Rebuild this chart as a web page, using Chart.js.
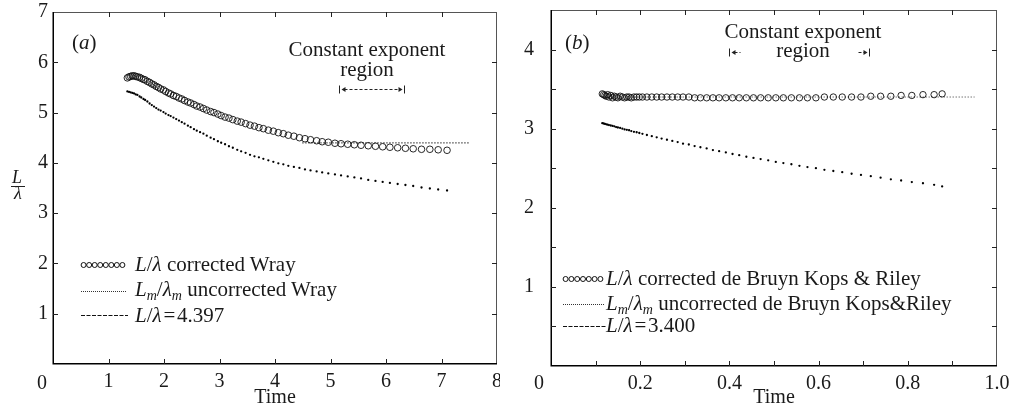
<!DOCTYPE html>
<html><head><meta charset="utf-8">
<script src="https://cdn.jsdelivr.net/npm/chart.js@4.4.1/dist/chart.umd.min.js"></script>
<style>
html,body{margin:0;padding:0;background:#fff;width:1015px;height:418px;overflow:hidden;}
#wrap{position:relative;width:1015px;height:418px;font-family:'Liberation Serif','Times New Roman',serif;color:#1a1a1a;}
canvas{position:absolute;top:0;}
#ca{left:0;width:520px;height:418px;}
#cb{left:500px;width:515px;height:418px;background:#fff;}
.t{position:absolute;font-size:21px;line-height:21px;white-space:nowrap;z-index:5;}
.z{font-size:20px;line-height:20px;}
.c{transform:translateX(-50%);}
.s{font-size:14px;position:relative;top:4px;}
.f{position:absolute;font-size:18px;line-height:18px;font-style:italic;z-index:5;transform:translateX(-50%);font-family:'Liberation Serif',serif;}
.bar{position:absolute;border-top:1px solid #222;z-index:5;}
</style></head><body>
<div id="wrap">
<canvas id="ca" width="520" height="418"></canvas>
<canvas id="cb" width="515" height="418"></canvas>

<div class="t" style="left:72px;top:32px;">(<i>a</i>)</div>
<div class="t c" style="left:367px;top:39px;">Constant exponent</div>
<div class="t c" style="left:367px;top:59px;">region</div>
<div class="t" style="left:135px;top:254px;"><i>L</i>/<i>λ</i> corrected Wray</div>
<div class="t" style="left:135px;top:279px;"><i>L<span class="s">m</span></i>/<i>λ<span class="s">m</span></i> uncorrected Wray</div>
<div class="t" style="left:135px;top:305px;"><i>L</i>/<i>λ</i>&#8202;=&#8202;4.397</div>
<div class="f" style="left:17px;top:168px;">L</div>
<div class="bar" style="left:11px;top:186px;width:14px;"></div>
<div class="f" style="left:18px;top:184px;">λ</div>
<div class="t c z" id="zeroA" style="left:42px;top:372px;"></div>

<div class="t" style="left:565px;top:32px;">(<i>b</i>)</div>
<div class="t c" style="left:803px;top:21px;">Constant exponent</div>
<div class="t c" style="left:803px;top:40px;">region</div>
<div class="t" style="left:606px;top:268px;"><i>L</i>/<i>λ</i> corrected de Bruyn Kops &amp; Riley</div>
<div class="t" style="left:606px;top:293px;"><i>L<span class="s">m</span></i>/<i>λ<span class="s">m</span></i> uncorrected de Bruyn Kops&amp;Riley</div>
<div class="t" style="left:606px;top:315px;"><i>L</i>/<i>λ</i>&#8202;=&#8202;3.400</div>
<div class="t c z" id="zeroB" style="left:539px;top:372px;"></div>
</div>

<script>
// ---------- Panel (a) data ----------
const timeA = [1.34,1.37,1.40,1.43,1.46,1.49,1.52,1.56,1.59,1.63,
  1.66,1.70,1.74,1.78,1.82,1.86,1.90,1.94,1.99,2.03,
  2.08,2.12,2.17,2.22,2.27,2.32,2.37,2.43,2.48,2.54,
  2.59,2.65,2.71,2.77,2.84,2.90,2.97,3.03,3.10,3.17,
  3.24,3.32,3.39,3.47,3.55,3.63,3.71,3.79,3.88,3.97,
  4.06,4.15,4.24,4.34,4.44,4.54,4.64,4.75,4.85,4.96,
  5.08,5.19,5.31,5.43,5.55,5.68,5.81,5.94,6.07,6.21,
  6.35,6.49,6.64,6.79,6.94,7.10];
const correctedA = [5.69,5.71,5.72,5.73,5.73,5.72,5.71,5.70,5.68,5.66,
  5.65,5.62,5.60,5.57,5.55,5.52,5.50,5.47,5.45,5.42,
  5.39,5.37,5.34,5.32,5.29,5.27,5.24,5.21,5.19,5.16,
  5.13,5.11,5.08,5.05,5.02,5.00,4.97,4.94,4.91,4.89,
  4.86,4.83,4.81,4.78,4.75,4.73,4.70,4.68,4.65,4.63,
  4.60,4.58,4.55,4.53,4.50,4.48,4.46,4.44,4.42,4.41,
  4.39,4.38,4.37,4.36,4.35,4.34,4.33,4.32,4.31,4.30,
  4.29,4.28,4.27,4.27,4.26,4.25];
const uncorrectedA = [5.42,5.41,5.40,5.39,5.38,5.36,5.35,5.32,5.30,5.27,
  5.25,5.22,5.18,5.15,5.12,5.09,5.06,5.04,5.01,4.98,
  4.95,4.93,4.90,4.87,4.84,4.81,4.78,4.74,4.71,4.67,
  4.64,4.61,4.58,4.54,4.50,4.47,4.43,4.40,4.37,4.33,
  4.30,4.26,4.23,4.20,4.16,4.13,4.11,4.08,4.05,4.02,
  3.99,3.97,3.94,3.92,3.90,3.87,3.85,3.83,3.81,3.79,
  3.77,3.75,3.73,3.71,3.69,3.66,3.64,3.62,3.60,3.58,
  3.56,3.54,3.51,3.49,3.47,3.45];
const constLineA = {x: [4.49, 7.49], y: 4.397};
const regionA = [5.15, 6.33];
const regionYA = 5.47;
const xTickValsA = [0,1,2,3,4,5,6,7,8];
const xTickLabelsA = ['0','1','2','3','4','5','6','7','8'];
const yTickValsA = [0,1,2,3,4,5,6,7];
const yTickLabelsA = ['','1','2','3','4','5','6','7'];

// ---------- Panel (b) data ----------
const timeB = [0.115,0.118,0.121,0.124,0.127,0.130,0.134,0.138,0.142,0.146,
  0.150,0.155,0.160,0.165,0.170,0.175,0.180,0.186,0.192,0.198,
  0.205,0.215,0.226,0.237,0.248,0.260,0.272,0.284,0.296,0.309,
  0.322,0.335,0.349,0.363,0.377,0.392,0.407,0.422,0.438,0.454,
  0.470,0.487,0.504,0.521,0.539,0.557,0.575,0.594,0.613,0.633,
  0.653,0.674,0.695,0.717,0.739,0.762,0.785,0.809,0.834,0.859,
  0.877];
const correctedB = [3.44,3.43,3.42,3.41,3.43,3.40,3.42,3.39,3.41,3.40,
  3.39,3.41,3.40,3.39,3.40,3.40,3.39,3.40,3.40,3.40,
  3.40,3.40,3.40,3.40,3.40,3.40,3.40,3.40,3.40,3.40,
  3.39,3.39,3.39,3.39,3.39,3.39,3.39,3.39,3.39,3.39,
  3.39,3.39,3.39,3.39,3.39,3.39,3.39,3.39,3.40,3.40,
  3.40,3.40,3.40,3.41,3.41,3.41,3.42,3.42,3.43,3.43,
  3.44];
const uncorrectedB = [3.07,3.065,3.06,3.055,3.05,3.045,3.04,3.035,3.03,3.02,
  3.015,3.01,3.00,2.99,2.985,2.98,2.97,2.96,2.955,2.945,
  2.935,2.92,2.905,2.89,2.875,2.86,2.845,2.83,2.81,2.80,
  2.78,2.765,2.75,2.73,2.715,2.70,2.68,2.665,2.645,2.63,
  2.615,2.60,2.58,2.565,2.55,2.53,2.515,2.50,2.48,2.465,
  2.45,2.43,2.415,2.40,2.38,2.36,2.345,2.325,2.31,2.29,
  2.27];
const constLineB = {x: [0.12, 0.95], y: 3.40};
const regionB = [0.40, 0.713];
const regionYB = 3.97;
const xTickValsB = [0,0.1,0.2,0.3,0.4,0.5,0.6,0.7,0.8,0.9,1.0];
const xTickLabelsB = ['0','','0.2','','0.4','','0.6','','0.8','','1.0'];
const yTickValsB = [0,0.5,1,1.5,2,2.5,3,3.5,4,4.5];
const yTickLabelsB = ['','','1','','2','','3','','4',''];

document.getElementById('zeroA').textContent = xTickLabelsA[0];
document.getElementById('zeroB').textContent = xTickLabelsB[0];

const FONT = "'Liberation Serif','Times New Roman',serif";
const INK = '#1a1a1a';

function arrowHead(ctx, x, y, dir) {
  ctx.beginPath();
  ctx.moveTo(x - dir * 4, y - 2.5);
  ctx.lineTo(x, y);
  ctx.lineTo(x - dir * 4, y + 2.5);
  ctx.closePath();
  ctx.fill();
}

function makeDecor(cfg) {
  return {
    id: 'decor',
    afterDatasetsDraw(chart) {
      const ctx = chart.ctx, a = chart.chartArea;
      const xs = chart.scales.x, ys = chart.scales.y;
      ctx.save();
      // frame
      ctx.strokeStyle = '#555'; ctx.lineWidth = 1;
      ctx.beginPath();
      ctx.moveTo(a.left, a.top + 0.5); ctx.lineTo(a.right, a.top + 0.5);
      ctx.moveTo(a.right - 0.5, a.top); ctx.lineTo(a.right - 0.5, a.bottom);
      ctx.stroke();
      ctx.strokeStyle = '#000'; ctx.lineWidth = 1.5;
      ctx.beginPath();
      ctx.moveTo(a.left + 0.25, a.top); ctx.lineTo(a.left + 0.25, a.bottom - 0.25); ctx.lineTo(a.right, a.bottom - 0.25);
      ctx.stroke();
      // inward ticks on all sides
      const tl = 5;
      ctx.strokeStyle = '#222'; ctx.lineWidth = 1;
      ctx.beginPath();
      cfg.xTickVals.forEach(v => {
        const p = Math.round(xs.getPixelForValue(v)) + 0.5;
        if (p <= a.left + 2 || p >= a.right - 2) return;
        ctx.moveTo(p, a.bottom); ctx.lineTo(p, a.bottom - tl);
        ctx.moveTo(p, a.top); ctx.lineTo(p, a.top + tl);
      });
      cfg.yTickVals.forEach(v => {
        const p = Math.round(ys.getPixelForValue(v)) + 0.5;
        if (p <= a.top + 2 || p >= a.bottom - 2) return;
        ctx.moveTo(a.left, p); ctx.lineTo(a.left + tl, p);
        ctx.moveTo(a.right, p); ctx.lineTo(a.right - tl, p);
      });
      ctx.stroke();
      // constant exponent region marker
      ctx.fillStyle = '#222'; ctx.strokeStyle = '#222'; ctx.lineWidth = 1;
      const xl = Math.round(xs.getPixelForValue(cfg.region[0])) + 0.5;
      const xr = Math.round(xs.getPixelForValue(cfg.region[1])) + 0.5;
      const yy = Math.round(ys.getPixelForValue(cfg.regionY)) + 0.5;
      ctx.beginPath();
      ctx.moveTo(xl, yy - 4); ctx.lineTo(xl, yy + 4);
      ctx.moveTo(xr, yy - 4); ctx.lineTo(xr, yy + 4);
      ctx.stroke();
      arrowHead(ctx, xl + 2, yy, -1);
      arrowHead(ctx, xr - 2, yy, 1);
      ctx.setLineDash([3, 2]);
      ctx.beginPath();
      if (cfg.fullArrow) {
        ctx.moveTo(xl + 5, yy); ctx.lineTo(xr - 5, yy);
      } else {
        ctx.moveTo(xl + 5, yy); ctx.lineTo(xl + 11, yy);
        ctx.moveTo(xr - 11, yy); ctx.lineTo(xr - 5, yy);
      }
      ctx.stroke();
      ctx.setLineDash([]);
      // legend samples
      const L = cfg.legend;
      ctx.strokeStyle = '#111'; ctx.lineWidth = 1;
      for (let i = 0; i < L.nCirc; i++) {
        const cx = L.x0 + 2.6 + i * (L.x1 - L.x0 - 5.2) / (L.nCirc - 1);
        ctx.beginPath(); ctx.arc(cx, L.y[0], 2.5, 0, Math.PI * 2); ctx.stroke();
      }
      ctx.fillStyle = '#333';
      for (let x = L.x0; x <= L.x1; x += 2) ctx.fillRect(x, L.y[1], 1, 1);
      ctx.strokeStyle = '#111'; ctx.lineWidth = 1.2;
      ctx.setLineDash([4, 1.5]);
      ctx.beginPath(); ctx.moveTo(L.x0, L.y[2] + 0.5); ctx.lineTo(L.x1 + 3, L.y[2] + 0.5); ctx.stroke();
      ctx.restore();
    }
  };
}

function makeChart(id, cfg) {
  const pts = (xs, ys) => xs.map((t, i) => ({x: t, y: ys[i]}));
  const label = (vals, labs) => v => { const i = vals.indexOf(v); return i >= 0 ? labs[i] : ''; };
  return new Chart(document.getElementById(id), {
    type: 'scatter',
    data: {
      datasets: [
        {label: 'corrected', data: pts(cfg.time, cfg.corr), pointStyle: 'circle', pointRadius: cfg.r,
         borderColor: '#111', borderWidth: 0.9, backgroundColor: 'rgba(0,0,0,0)', showLine: false},
        {label: 'uncorrected', data: pts(cfg.time, cfg.unc), pointStyle: 'circle', pointRadius: 1.15,
         borderWidth: 0, backgroundColor: '#000', showLine: false},
        {label: 'const', data: cfg.constLine.x.map(x => ({x: x, y: cfg.constLine.y})), showLine: true,
         pointRadius: 0, borderColor: cfg.constColor, borderWidth: 1, borderDash: [1.5, 1.5]}
      ]
    },
    options: {
      responsive: false, animation: false, devicePixelRatio: 1, events: [],
      layout: {padding: cfg.pad},
      plugins: {legend: {display: false}, tooltip: {enabled: false}},
      scales: {
        x: {
          type: 'linear', min: cfg.xmin, max: cfg.xmax,
          grid: {display: false, drawTicks: true, tickLength: 8}, border: {display: false},
          afterBuildTicks: s => { s.ticks = cfg.xTickVals.slice(1).filter((v, i) => cfg.xTickLabels[i + 1] !== '').map(v => ({value: v})); },
          ticks: {autoSkip: false, maxRotation: 0, padding: 0, color: INK,
                  font: {family: FONT, size: 20, lineHeight: 1.0},
                  callback: label(cfg.xTickVals, cfg.xTickLabels)},
          title: {display: true, text: 'Time', color: INK, font: {family: FONT, size: 20, lineHeight: 1.2},
                  padding: {top: 0, bottom: 8}},
          afterFit: s => { s.height = cfg.xh; }
        },
        y: {
          type: 'linear', min: cfg.ymin, max: cfg.ymax,
          grid: {display: false, drawTicks: true, tickLength: cfg.ypad}, border: {display: false},
          afterBuildTicks: s => { s.ticks = cfg.yTickVals.filter((v, i) => cfg.yTickLabels[i] !== '').map(v => ({value: v})); },
          ticks: {autoSkip: false, padding: 0, color: INK,
                  font: {family: FONT, size: 20, lineHeight: 1.0},
                  callback: label(cfg.yTickVals, cfg.yTickLabels)},
          afterFit: s => { s.width = cfg.yw; }
        }
      }
    },
    plugins: [makeDecor(cfg)]
  });
}

makeChart('ca', {
  time: timeA, corr: correctedA, unc: uncorrectedA, constLine: constLineA, constColor: '#222', r: 3.3,
  region: regionA, regionY: regionYA, fullArrow: true,
  xmin: 0, xmax: 8, ymin: 0, ymax: 7,
  xTickVals: xTickValsA, xTickLabels: xTickLabelsA, yTickVals: yTickValsA, yTickLabels: yTickLabelsA,
  pad: {left: 0, right: 23, top: 12, bottom: 0}, yw: 53, xh: 54, ypad: 5,
  legend: {x0: 81, x1: 125, nCirc: 8, y: [265, 291, 315]}
});

makeChart('cb', {
  time: timeB, corr: correctedB, unc: uncorrectedB, constLine: constLineB, constColor: '#777', r: 3.2,
  region: regionB, regionY: regionYB, fullArrow: false,
  xmin: 0, xmax: 1.0, ymin: 0, ymax: 4.5,
  xTickVals: xTickValsB, xTickLabels: xTickLabelsB, yTickVals: yTickValsB, yTickLabels: yTickLabelsB,
  pad: {left: 0, right: 18, top: 10, bottom: 0}, yw: 51, xh: 52, ypad: 17,
  legend: {x0: 63, x1: 103, nCirc: 7, y: [279, 304, 326]}
});
</script>
</body></html>
